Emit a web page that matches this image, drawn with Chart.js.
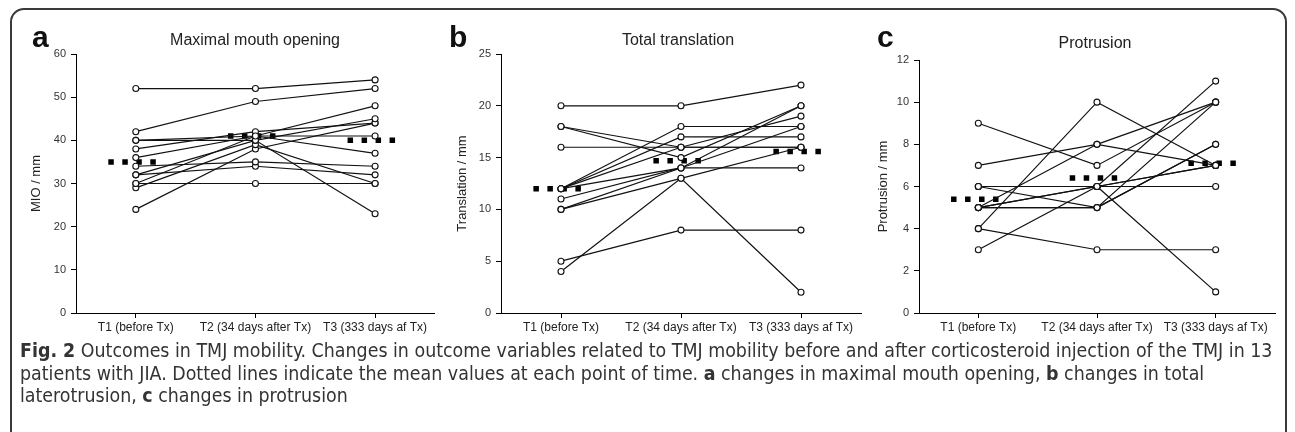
<!DOCTYPE html>
<html>
<head>
<meta charset="utf-8">
<script src="https://cdn.jsdelivr.net/npm/chart.js@4/dist/chart.umd.min.js"></script>
<style>
body{margin:0;background:#fff;width:1295px;height:432px;overflow:hidden;position:relative;font-family:"Liberation Sans",Arial,sans-serif}
#frame{position:absolute;left:10px;top:8px;width:1277px;height:470px;border:2px solid #3a3a3a;border-radius:14px;box-sizing:border-box}
.cv{position:absolute;top:0}
.lt{position:absolute;font:bold 30px "Liberation Sans",Arial,sans-serif;line-height:30px;color:#111}
.tt{position:absolute;font:16px "Liberation Sans",Arial,sans-serif;line-height:16px;color:#222;transform:translateX(-50%);white-space:nowrap}
#cap{position:absolute;left:20px;top:340px;font:19.4px "Liberation Sans Narrow","DejaVu Sans Condensed",sans-serif;line-height:22.5px;color:#333;white-space:nowrap}
</style>
</head>
<body>
<div id="frame"></div>
<canvas id="chartA" class="cv" style="left:0px" width="440" height="345"></canvas>
<canvas id="chartB" class="cv" style="left:430px" width="440" height="345"></canvas>
<canvas id="chartC" class="cv" style="left:860px" width="430" height="345"></canvas>
<div class="lt" style="left:32px;top:22px">a</div>
<div class="lt" style="left:449px;top:22px">b</div>
<div class="lt" style="left:877px;top:22px">c</div>
<div class="tt" style="left:255px;top:32px">Maximal mouth opening</div>
<div class="tt" style="left:678px;top:32px">Total translation</div>
<div class="tt" style="left:1095px;top:35px">Protrusion</div>
<div id="cap"><b>Fig. 2</b> Outcomes in TMJ mobility. Changes in outcome variables related to TMJ mobility before and after corticosteroid injection of the TMJ in 13<br>patients with JIA. Dotted lines indicate the mean values at each point of time. <b>a</b> changes in maximal mouth opening, <b>b</b> changes in total<br>laterotrusion, <b>c</b> changes in protrusion</div>
<script>
// 측정 시점
var timeLabels = ["T1 (before Tx)", "T2 (34 days after Tx)", "T3 (333 days af Tx)"];

// a: maximal mouth opening (13 patients)
var mioT1 = [52, 42, 40, 40, 38, 36, 34, 32, 32, 30, 30, 29, 24];
var mioT2 = [52, 49, 41, 40, 42, 41, 35, 34, 40, 30, 41, 39, 38];
var mioT3 = [54, 52, 48, 45, 44, 41, 34, 32, 23, 30, 37, 30, 44];
var mioMean = [35, 41, 40];

// b: total translation
var transT1 = [20, 18, 18, 16, 12, 12, 12, 12, 11, 10, 10, 5, 4];
var transT2 = [20, 16, 15, 16, 18, 17, 16, 14, 14, 14, 13, 8, 13];
var transT3 = [22, 16, 20, 16, 18, 17, 19, 20, 14, 18, 16, 8, 2];
var transMean = [12, 14.7, 15.6];

// c: protrusion
var protT1 = [9, 7, 6, 6, 5, 5, 5, 4, 4, 3, 5, 6, 5];
var protT2 = [7, 8, 6, 5, 8, 6, 5, 10, 3, 6, 6, 6, 5];
var protT3 = [10, 7, 6, 10, 10, 1, 8, 7, 3, 11, 7, 7, 8];
var protMean = [5.4, 6.4, 7.1];

var tickFont = {family: "Liberation Sans", size: 12};

function makePanel(id, t1, t2, t3, means, yMax, yStep, yTitle, pad, axisW){
    var datasets = [];
    for (var i = 0; i < t1.length; i++) {
        datasets.push({
            data: [{x: 1, y: t1[i]}, {x: 2, y: t2[i]}, {x: 3, y: t3[i]}],
            borderColor: '#111',
            borderWidth: 1.2,
            pointRadius: 3,
            pointBorderWidth: 1.1,
            pointBorderColor: '#111',
            pointBackgroundColor: '#fff',
            tension: 0
        });
    }
    // 평균값 점선 (각 시점)
    for (var k = 0; k < means.length; k++) {
        datasets.push({
            data: [{x: k + 1 - 0.23, y: means[k]}, {x: k + 1 + 0.17, y: means[k]}],
            borderColor: '#000',
            borderWidth: 5.5,
            borderDash: [5.5, 8.5],
            borderCapStyle: 'butt',
            pointRadius: 0
        });
    }
    return new Chart(document.getElementById(id), {
        type: 'line',
        data: {datasets: datasets},
        options: {
            responsive: false,
            animation: false,
            layout: {padding: pad},
            plugins: {legend: {display: false}, tooltip: {enabled: false}},
            scales: {
                x: {
                    type: 'linear',
                    min: 0.5,
                    max: 3.5,
                    afterBuildTicks: function(s){ s.ticks = [{value: 1}, {value: 2}, {value: 3}]; },
                    afterFit: function(s){ s.height = 32; },
                    ticks: {
                        autoSkip: false, maxRotation: 0, padding: 2, color: '#222', font: tickFont,
                        callback: function(v){ return timeLabels[v - 1]; }
                    },
                    grid: {drawOnChartArea: false, drawTicks: true, tickLength: 5, color: '#000'},
                    border: {color: '#000', width: 1}
                },
                y: {
                    min: 0,
                    max: yMax,
                    afterFit: function(s){ s.width = axisW; },
                    ticks: {stepSize: yStep, padding: 5, color: '#333', font: {family: "Liberation Sans", size: 11}},
                    grid: {drawOnChartArea: false, drawTicks: true, tickLength: 5, color: '#000'},
                    border: {color: '#000', width: 1},
                    title: {display: true, text: yTitle, padding: 0, color: '#222', font: {family: "Liberation Sans", size: 13}}
                }
            }
        }
    });
}

makePanel('chartA', mioT1, mioT2, mioT3, mioMean, 60, 10, 'MIO / mm', {left: 29, right: 4, top: 54, bottom: 0}, 47);
makePanel('chartB', transT1, transT2, transT3, transMean, 25, 5, 'Translation / mm', {left: 25, right: 9, top: 54, bottom: 0}, 46);
makePanel('chartC', protT1, protT2, protT3, protMean, 12, 2, 'Protrusion / mm', {left: 16, right: 15, top: 60, bottom: 0}, 43);
</script>
</body>
</html>
